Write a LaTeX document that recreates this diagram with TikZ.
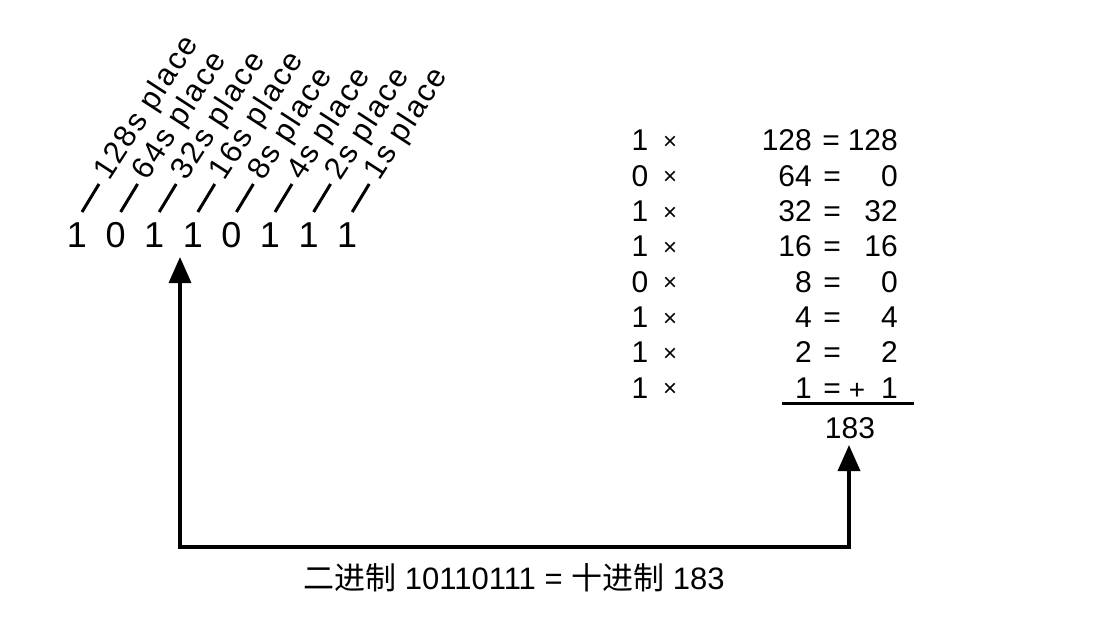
\documentclass[tikz,border=0pt]{standalone}
\usepackage{fontspec}
\setmainfont{Liberation Sans}
\newfontfamily\spaced[LetterSpace=6]{Liberation Sans}
\newfontfamily\cjk{Noto Sans CJK SC}
\usetikzlibrary{arrows.meta}
\tikzset{
    bit/.style={font=\fontsize{36}{38}\selectfont, inner sep=0pt},
    placelabel/.style={font=\spaced\fontsize{31}{33}\selectfont, rotate=57, anchor=base west, inner sep=0pt},
    tick/.style={line width=3pt},
    cell/.style={font=\fontsize{30}{32}\selectfont, inner sep=0pt, anchor=base},
    times/.style={font=\fontsize{24}{26}\selectfont, inner sep=0pt},
    conn/.style={line width=3.5pt, {Triangle[width=22pt,length=26pt]}-{Triangle[width=22pt,length=26pt]}},
}
\begin{document}
\begin{tikzpicture}[x=1pt, y=-1pt]
            \useasboundingbox (0, 0) rectangle (1118, 628);
            % the binary number
            \node[bit] (b7) at (77, 235) {1};
            \node[bit] (b6) at (115.6, 235) {0};
            \node[bit] (b5) at (154.2, 235) {1};
            \node[bit] (b4) at (192.8, 235) {1};
            \node[bit] (b3) at (231.4, 235) {0};
            \node[bit] (b2) at (270, 235) {1};
            \node[bit] (b1) at (308.6, 235) {1};
            \node[bit] (b0) at (347.2, 235) {1};
            % place ticks and labels
            \draw[tick] (82, 212) -- (99, 184) coordinate (t7);
            \draw[tick] (120.6, 212) -- (137.6, 184) coordinate (t6);
            \draw[tick] (159.2, 212) -- (176.2, 184) coordinate (t5);
            \draw[tick] (197.8, 212) -- (214.8, 184) coordinate (t4);
            \draw[tick] (236.4, 212) -- (253.4, 184) coordinate (t3);
            \draw[tick] (275, 212) -- (292, 184) coordinate (t2);
            \draw[tick] (313.6, 212) -- (330.6, 184) coordinate (t1);
            \draw[tick] (352.2, 212) -- (369.2, 184) coordinate (t0);
            \node[placelabel] (p7) at ([shift={(10, -2)}]t7) {128s place};
            \node[placelabel] (p6) at ([shift={(10, -2)}]t6) {64s place};
            \node[placelabel] (p5) at ([shift={(10, -2)}]t5) {32s place};
            \node[placelabel] (p4) at ([shift={(10, -2)}]t4) {16s place};
            \node[placelabel] (p3) at ([shift={(10, -2)}]t3) {8s place};
            \node[placelabel] (p2) at ([shift={(10, -2)}]t2) {4s place};
            \node[placelabel] (p1) at ([shift={(10, -2)}]t1) {2s place};
            \node[placelabel] (p0) at ([shift={(10, -2)}]t0) {1s place};
            % multiplication table, on the baselines
            \node[cell] (m7) at (640, 151) {1};
            \node[cell] (m6) at (640, 186.3) {0};
            \node[cell] (m5) at (640, 221.6) {1};
            \node[cell] (m4) at (640, 256.9) {1};
            \node[cell] (m3) at (640, 292.2) {0};
            \node[cell] (m2) at (640, 327.5) {1};
            \node[cell] (m1) at (640, 362.8) {1};
            \node[cell] (m0) at (640, 398.1) {1};
            \node[times] (x7) at (670, 143) {×};
            \node[times] (x6) at (670, 178.3) {×};
            \node[times] (x5) at (670, 213.6) {×};
            \node[times] (x4) at (670, 248.9) {×};
            \node[times] (x3) at (670, 284.2) {×};
            \node[times] (x2) at (670, 319.5) {×};
            \node[times] (x1) at (670, 354.8) {×};
            \node[times] (x0) at (670, 390.1) {×};
            \node[cell, anchor=base east] (w7) at (812, 151) {128};
            \node[cell, anchor=base east] (w6) at (812, 186.3) {64};
            \node[cell, anchor=base east] (w5) at (812, 221.6) {32};
            \node[cell, anchor=base east] (w4) at (812, 256.9) {16};
            \node[cell, anchor=base east] (w3) at (812, 292.2) {8};
            \node[cell, anchor=base east] (w2) at (812, 327.5) {4};
            \node[cell, anchor=base east] (w1) at (812, 362.8) {2};
            \node[cell, anchor=base east] (w0) at (812, 398.1) {1};
            \node[cell] (e7) at (831, 151) {=};
            \node[cell] (e6) at (832, 186.3) {=};
            \node[cell] (e5) at (832, 221.6) {=};
            \node[cell] (e4) at (832, 256.9) {=};
            \node[cell] (e3) at (832, 292.2) {=};
            \node[cell] (e2) at (832, 327.5) {=};
            \node[cell] (e1) at (832, 362.8) {=};
            \node[cell] (e0) at (832, 398.1) {=};
            \node[cell, anchor=base east] (r7) at (898, 151) {128};
            \node[cell, anchor=base east] (r6) at (898, 186.3) {0};
            \node[cell, anchor=base east] (r5) at (898, 221.6) {32};
            \node[cell, anchor=base east] (r4) at (898, 256.9) {16};
            \node[cell, anchor=base east] (r3) at (898, 292.2) {0};
            \node[cell, anchor=base east] (r2) at (898, 327.5) {4};
            \node[cell, anchor=base east] (r1) at (898, 362.8) {2};
            \node[cell, anchor=base east] (r0) at (898, 398.1) {1};
            \node[times, font=\fontsize{28}{30}\selectfont] (plus) at (857, 391) {+};
            \draw[line width=3pt] (782, 403) -- (914, 403);
            \node[cell] (total) at (850, 438) {183};
            % arrow from the number to the sum
            \coordinate (lefttip) at (180, 257);
            \coordinate (corner) at (180, 547);
            \coordinate (sumtip) at (849, 445);
            \draw[conn] (lefttip) -- (corner) -| (sumtip);
            \node[cell, anchor=center, font=\fontsize{31}{34}\selectfont] (caption) at (514, 578) {{\cjk 二进制} 10110111 = {\cjk 十进制} 183};
        \end{tikzpicture}
\end{document}
